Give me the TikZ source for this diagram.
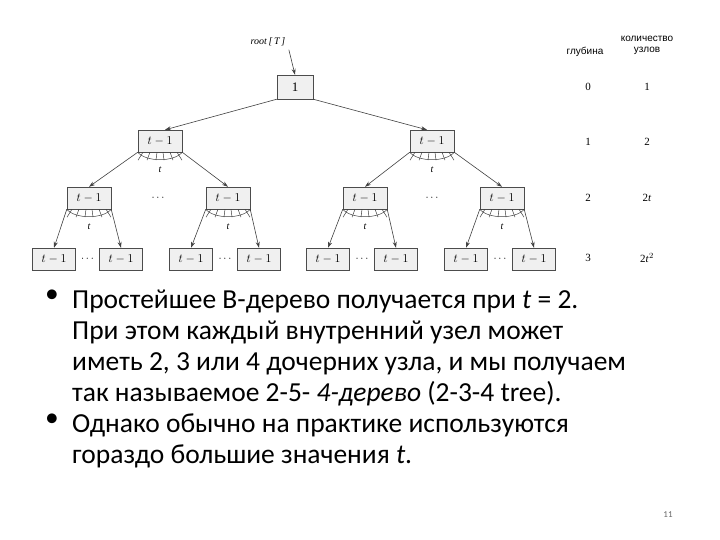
\documentclass[tikz,border=0pt]{standalone}
\usepackage{fontspec}
\setmainfont{Carlito}
\newfontfamily\tfont{Liberation Serif}
\newfontfamily\hfont{Liberation Sans}
\usetikzlibrary{calc,arrows.meta}
\begin{document}
\begin{tikzpicture}[x=1pt,y=-1pt,
  bx/.style={draw=black!70,fill=black!6,minimum width=44pt,minimum height=22pt,inner sep=0pt,font=\tfont\fontsize{13}{13}\selectfont},
  bx3/.style={bx,minimum width=43pt},
  ar/.style={draw=black!75,line width=0.6pt,-{Stealth[length=6pt,width=4pt]}},
  lbl/.style={font=\tfont\itshape\fontsize{10}{10}\selectfont},
  tab/.style={font=\tfont\fontsize{11}{11}\selectfont},
  bul/.style={font=\fontsize{27.5}{31}\selectfont,anchor=north west,align=left,inner sep=0pt}]
\useasboundingbox (0,0) rectangle (720,540);
\newcommand\myfan[1]{%
  \draw[black!75,line width=0.5pt] (#1.south west) .. controls ($(#1.south west)+(8,10)$) and ($(#1.south east)+(-8,10)$) .. (#1.south east);
  \foreach \dx/\tl in {-17/-5,-10/-3,-3/-1,3/1,10/3,17/5}{
    \draw[black!75,line width=0.5pt] ($(#1.south)+(\dx,0)$) -- ++(\tl,8);}
}
% nodes
\node[bx,minimum width=36pt,minimum height=24pt] (root) at (295,87) {1};
\node[lbl] (rl) at (268,42) {root\,[\,T\,]};
\node[bx] (a) at (160,141) {$t-1$};
\node[bx] (b) at (432,141) {$t-1$};
\node[bx] (a1) at (89,198) {$t-1$};
\node[bx] (a2) at (228,198) {$t-1$};
\node[bx] (b1) at (365,198) {$t-1$};
\node[bx] (b2) at (502,198) {$t-1$};
\foreach \n/\x in {a11/54,a12/121,a21/191,a22/259,b11/328,b12/396,b21/466,b22/534}{
  \node[bx3] (\n) at (\x,259) {$t-1$};}
% dots
\foreach \x in {158,432}{\node[tab] at (\x,198) {$\cdots$};}
\foreach \p/\q in {a11/a12,a21/a22,b11/b12,b21/b22}{\node[tab] at ($(\p)!0.5!(\q)$) {$\cdots$};}
% fans
\foreach \n in {a,b,a1,a2,b1,b2}{\myfan{\n}}
\foreach \n in {a,b,a1,a2,b1,b2}{\node[lbl] at ($(\n)+(0,29)$) {t};}
% arrows
\draw[ar] (rl.south east) -- (root.north);
\draw[ar] (root.south west) -- ($(a.north)+(5,0)$);
\draw[ar] (root.south east) -- ($(b.north)+(-5,0)$);
\foreach \p/\c/\d in {a/a1/a2,b/b1/b2,a1/a11/a12,a2/a21/a22,b1/b11/b12,b2/b21/b22}{
  \draw[ar] (\p.south west) -- (\c.north);
  \draw[ar] (\p.south east) -- (\d.north);}
% table
\node[font=\hfont\fontsize{10}{11}\selectfont] at (585,52) {глубина};
\node[font=\hfont\fontsize{10}{11}\selectfont,align=center] at (647,45) {количество\\узлов};
\foreach \y/\d/\c in {87/0/1,142/1/2,198/2/2\textit{t},258/3/2\textit{t}$^{2}$}{
  \node[tab] at (588,\y) {\d};
  \node[tab] at (647,\y) {\c};}
% bullets
\node[bul] (t1) at (45,290) {•};
\node[bul] (t1b) at (72,290) {Простейшее B-дерево получается при \textit{t} = 2.\\При этом каждый внутренний узел может\\иметь 2, 3 или 4 дочерних узла, и мы получаем\\так называемое 2-5- \textit{4-дерево} (2-3-4 tree).};
\node[bul] (t2) at (45,414) {•};
\node[bul] (t2b) at (72,414) {Однако обычно на практике используются\\гораздо большие значения \textit{t}.};
\node[font=\fontsize{9}{9}\selectfont,text=black!60] (pg) at (668,515) {11};
\end{tikzpicture}
\end{document}
